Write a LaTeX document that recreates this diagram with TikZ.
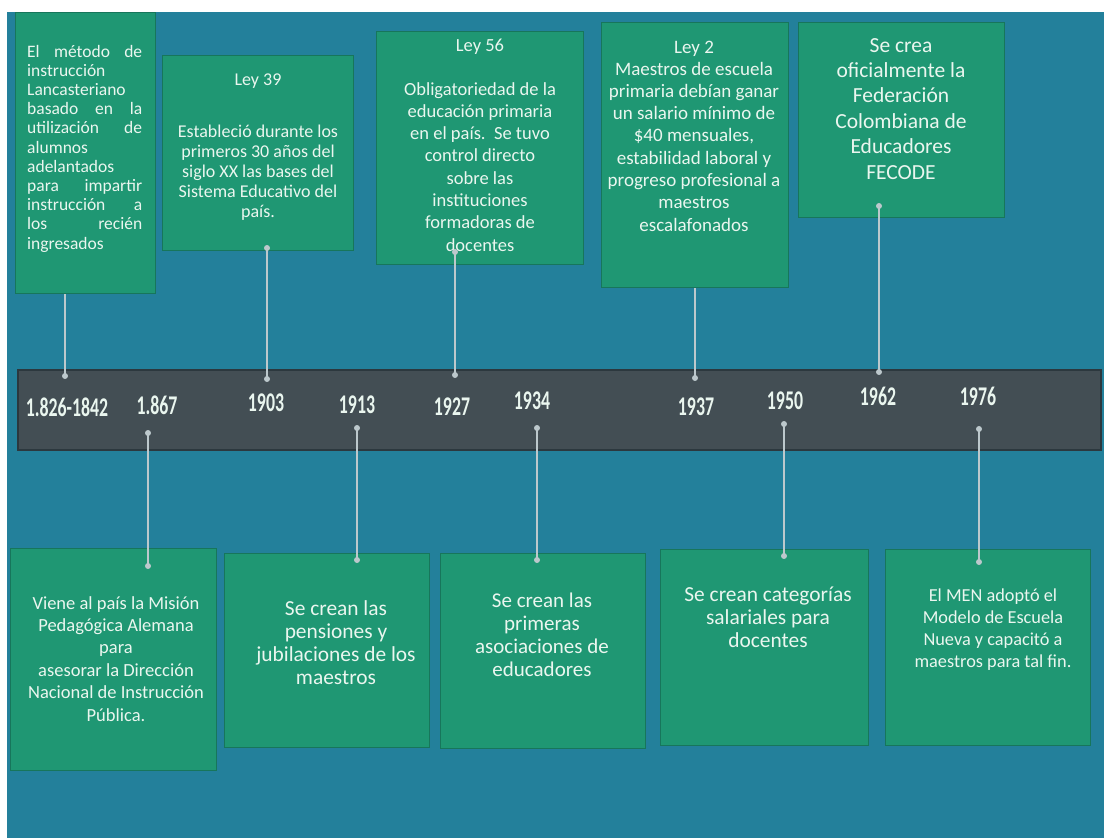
\documentclass[tikz,border=0pt]{standalone}
\usepackage{fontspec}
\usepackage{graphicx}
\setmainfont{Carlito}
\definecolor{bgblue}{HTML}{23809B}
\definecolor{cardgreen}{HTML}{1F9773}
\definecolor{cardedge}{HTML}{17765B}
\definecolor{bandgray}{HTML}{434E54}
\definecolor{bandedge}{HTML}{2C383E}
\definecolor{pin}{HTML}{BCC8CC}
\definecolor{txtc}{HTML}{EAF6EF}
\tikzset{
 card/.style={rectangle, fill=cardgreen, draw=cardedge, line width=1pt, inner sep=0pt, anchor=north west},
 txt/.style={inner sep=0pt, anchor=base, text=txtc},
 yearlbl/.style={inner sep=0pt, text=txtc, font=\fontsize{27}{27}\selectfont\bfseries},
 conn/.style={draw=pin, line width=1.1pt},
 pindot/.style={circle, fill=pin, inner sep=0pt, minimum size=6pt},
}
\newcommand{\ctext}[4]{\parbox[t]{#1pt}{\centering\fontsize{#2}{#3}\selectfont #4}}
\newcommand{\yr}[1]{\scalebox{0.66}[1]{#1}}
\begin{document}
\begin{tikzpicture}[x=1pt,y=-1pt]
\useasboundingbox (0,0) rectangle (1104,838);
\fill[white] (0,0) rectangle (1104,838);
\fill[bgblue] (7,12) rectangle (1104,838);

% timeline band
\node[rectangle, fill=bandgray, draw=bandedge, line width=1.5pt, anchor=north west, minimum width=1083pt, minimum height=80pt] (band) at (17,369) {};

% top cards
\node[card, minimum width=140pt, minimum height=281pt] (b1826) at (15,12) {};
\node[card, minimum width=191pt, minimum height=195pt] (b1903) at (162,55) {};
\node[card, minimum width=207pt, minimum height=233pt] (b1927) at (376,31) {};
\node[card, minimum width=187pt, minimum height=265pt] (b1937) at (601,22) {};
\node[card, minimum width=206pt, minimum height=195pt] (b1962) at (798,22) {};

% bottom cards
\node[card, minimum width=206pt, minimum height=222pt] (b1867) at (10,548) {};
\node[card, minimum width=205pt, minimum height=194pt] (b1913) at (224,553) {};
\node[card, minimum width=205pt, minimum height=195pt] (b1934) at (440,553) {};
\node[card, minimum width=208pt, minimum height=196pt] (b1950) at (660,549) {};
\node[card, minimum width=205pt, minimum height=196pt] (b1976) at (885,549) {};

% top texts
\node[txt, anchor=base west] (t1826) at (27,57) {\parbox[t]{115pt}{\fontsize{17.5}{19.2}\selectfont
\makebox[115pt][s]{El método de}\\
instrucción\\
Lancasteriano\\
\makebox[115pt][s]{basado en la}\\
\makebox[115pt][s]{utilización de}\\
alumnos\\
adelantados\\
\makebox[115pt][s]{para impartir}\\
\makebox[115pt][s]{instrucción a}\\
\makebox[115pt][s]{los recién}\\
ingresados}};

\node[txt] (h1903) at (258,85) {\ctext{185}{18}{20}{Ley 39}};
\node[txt] (t1903) at (258,137) {\ctext{185}{18}{20}{Estableció durante los\\primeros 30 años del\\siglo XX las bases del\\Sistema Educativo del\\país.}};

\node[txt] (h1927) at (480,51) {\ctext{200}{18.5}{22.3}{Ley 56}};
\node[txt] (t1927) at (480,95) {\ctext{200}{18.5}{22.3}{Obligatoriedad de la\\educación primaria\\en el país.\ \ Se tuvo\\control directo\\sobre las\\instituciones\\formadoras de\\docentes}};

\node[txt] (h1937) at (694,53) {\ctext{185}{19}{22.3}{Ley 2}};
\node[txt] (t1937) at (694,75) {\ctext{185}{19}{22.3}{Maestros de escuela\\primaria debían ganar\\un salario mínimo de\\\$40 mensuales,\\estabilidad laboral y\\progreso profesional a\\maestros\\escalafonados}};

\node[txt] (t1962) at (901,52) {\ctext{200}{21.5}{25.4}{Se crea\\oficialmente la\\Federación\\Colombiana de\\Educadores\\FECODE}};

% bottom texts
\node[txt] (t1867) at (116,609) {\ctext{200}{18.5}{22.4}{Viene al país la Misión\\Pedagógica Alemana\\para\\asesorar la Dirección\\Nacional de Instrucción\\Pública.}};
\node[txt] (t1913) at (336,615) {\ctext{200}{21.4}{23.2}{Se crean las\\pensiones y\\jubilaciones de los\\maestros}};
\node[txt] (t1934) at (542,607) {\ctext{200}{21}{23}{Se crean las\\primeras\\asociaciones de\\educadores}};
\node[txt] (t1950) at (768,601) {\ctext{200}{21.4}{23}{Se crean categorías\\salariales para\\docentes}};
\node[txt] (t1976) at (993,601) {\ctext{200}{18.3}{22}{El MEN adoptó el\\Modelo de Escuela\\Nueva y capacitó a\\maestros para tal fin.}};

% years
\node[yearlbl] (y1826) at (67,407) {\yr{1.826-1842}};
\node[yearlbl] (y1867) at (157,405) {\yr{1.867}};
\node[yearlbl] (y1903) at (266,403) {\yr{1903}};
\node[yearlbl] (y1913) at (357,405) {\yr{1913}};
\node[yearlbl] (y1927) at (452,407) {\yr{1927}};
\node[yearlbl] (y1934) at (532,401) {\yr{1934}};
\node[yearlbl] (y1937) at (696,407) {\yr{1937}};
\node[yearlbl] (y1950) at (785,401) {\yr{1950}};
\node[yearlbl] (y1962) at (878,396) {\yr{1962}};
\node[yearlbl] (y1976) at (978,396) {\yr{1976}};

% pins on band
\node[pindot] (p1826) at (65,376) {};
\node[pindot] (p1903) at (267,379) {};
\node[pindot] (p1927) at (455,375) {};
\node[pindot] (p1937) at (695,378) {};
\node[pindot] (p1962) at (879,372) {};
\node[pindot] (p1867) at (148,433) {};
\node[pindot] (p1913) at (357,428) {};
\node[pindot] (p1934) at (537,428) {};
\node[pindot] (p1950) at (784,424) {};
\node[pindot] (p1976) at (979,429) {};

% pins on cards
\node[pindot] (q1903) at (267,248) {};
\node[pindot] (q1927) at (455,252) {};
\node[pindot] (q1962) at (879,206) {};
\node[pindot] (q1867) at (148,566) {};
\node[pindot] (q1913) at (357,560) {};
\node[pindot] (q1934) at (537,560) {};
\node[pindot] (q1950) at (784,556) {};
\node[pindot] (q1976) at (979,562) {};

% connectors
\draw[conn] (p1826.center) -- (p1826.center |- b1826.south);
\draw[conn] (p1903.center) -- (q1903.center);
\draw[conn] (p1927.center) -- (q1927.center);
\draw[conn] (p1937.center) -- (p1937.center |- b1937.south);
\draw[conn] (p1962.center) -- (q1962.center);
\draw[conn] (p1867.center) -- (q1867.center);
\draw[conn] (p1913.center) -- (q1913.center);
\draw[conn] (p1934.center) -- (q1934.center);
\draw[conn] (p1950.center) -- (q1950.center);
\draw[conn] (p1976.center) -- (q1976.center);
\end{tikzpicture}
\end{document}
